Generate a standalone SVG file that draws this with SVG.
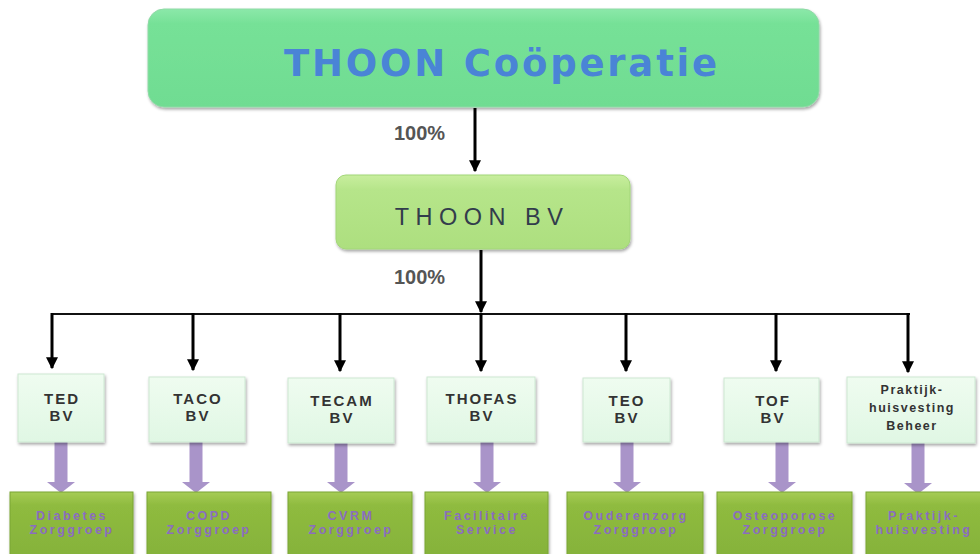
<svg xmlns="http://www.w3.org/2000/svg" width="980" height="554" viewBox="0 0 980 554">
<defs>
<linearGradient id="gTop" x1="0" y1="0" x2="0" y2="1"><stop offset="0" stop-color="#8be8a9"/><stop offset="0.15" stop-color="#76e197"/><stop offset="1" stop-color="#70dc92"/></linearGradient>
<linearGradient id="gBv" x1="0" y1="0" x2="0" y2="1"><stop offset="0" stop-color="#c8ee9e"/><stop offset="0.2" stop-color="#b6e58a"/><stop offset="1" stop-color="#addf7f"/></linearGradient>
<linearGradient id="gSub" x1="0" y1="0" x2="0" y2="1"><stop offset="0" stop-color="#effcf0"/><stop offset="1" stop-color="#e0f7e4"/></linearGradient>
<linearGradient id="gBot" x1="0" y1="0" x2="0" y2="1"><stop offset="0" stop-color="#a6cc55"/><stop offset="0.2" stop-color="#8fbb3f"/><stop offset="1" stop-color="#85b23a"/></linearGradient>
<filter id="sh" x="-10%" y="-10%" width="120%" height="130%"><feDropShadow dx="1" dy="2" stdDeviation="1.5" flood-color="#000" flood-opacity="0.35"/></filter>
<marker id="ah" viewBox="0 0 10 10" refX="9" refY="5" markerWidth="4" markerHeight="4" orient="auto" markerUnits="strokeWidth">
<path d="M0,0 L10,5 L0,10 z" fill="#000"/>
</marker>
<g id="parrow"><rect x="-6.5" y="0" width="13" height="41" fill="#a994c9"/><path d="M-14,40 L14,40 L0,51 z" fill="#a994c9"/></g>
</defs>
<style>
.conn{stroke:#000;stroke-width:3;fill:none}
.hline{stroke:#111;stroke-width:2;fill:none}
.pct{font-family:"Liberation Sans",Arial,sans-serif;font-weight:bold;font-size:20px;fill:#555}
.sub{fill:url(#gSub);stroke:#cde8d2;stroke-width:1;filter:url(#sh)}
.bot{fill:url(#gBot);stroke:#7aa534;stroke-width:1;filter:url(#sh)}
.st{font-family:"Liberation Sans",Arial,sans-serif;font-weight:bold;font-size:15px;fill:#333;text-anchor:middle;letter-spacing:2px}
.st2{font-family:"Liberation Sans",Arial,sans-serif;font-weight:bold;font-size:12.5px;fill:#333;text-anchor:middle;letter-spacing:1.5px}
.bt{font-family:"Liberation Sans",Arial,sans-serif;font-weight:bold;font-size:12.5px;fill:#8a6dc0;text-anchor:middle;letter-spacing:2.5px}
</style>
<rect width="980" height="554" fill="#fff"/>

<g id="connectors">
<line class="conn" x1="475" y1="108" x2="475" y2="171" marker-end="url(#ah)"/>
<line class="conn" x1="481" y1="250" x2="481" y2="312" marker-end="url(#ah)"/>
<line class="hline" x1="51" y1="314" x2="910" y2="314"/>
<line class="conn" x1="52" y1="313" x2="52" y2="368" marker-end="url(#ah)"/>
<line class="conn" x1="193" y1="313" x2="193" y2="370" marker-end="url(#ah)"/>
<line class="conn" x1="340" y1="313" x2="340" y2="371" marker-end="url(#ah)"/>
<line class="conn" x1="481" y1="313" x2="481" y2="371" marker-end="url(#ah)"/>
<line class="conn" x1="626" y1="313" x2="626" y2="371" marker-end="url(#ah)"/>
<line class="conn" x1="776" y1="313" x2="776" y2="371" marker-end="url(#ah)"/>
<line class="conn" x1="908" y1="313" x2="908" y2="372" marker-end="url(#ah)"/>
<use href="#parrow" x="61" y="442"/>
<use href="#parrow" x="196" y="442"/>
<use href="#parrow" x="341" y="442"/>
<use href="#parrow" x="487" y="442"/>
<use href="#parrow" x="627" y="442"/>
<use href="#parrow" x="782" y="442"/>
<use href="#parrow" x="918" y="443"/>
</g>
<text class="pct" x="394" y="140">100%</text>
<text class="pct" x="394" y="284">100%</text>

<g id="coop">
<rect x="148" y="9" width="671" height="98" rx="16" fill="url(#gTop)" stroke="#8fd9a6" stroke-width="1" filter="url(#sh)"/>
<text x="502" y="76" text-anchor="middle" font-family="DejaVu Sans,Verdana,sans-serif" font-weight="bold" font-size="37" fill="#4a84d6" letter-spacing="2.8">THOON Coöperatie</text>
</g>

<g id="thoonbv">
<rect x="336" y="175" width="294" height="74" rx="10" fill="url(#gBv)" stroke="#a2d678" stroke-width="1" filter="url(#sh)"/>
<text x="482" y="225" text-anchor="middle" font-family="Liberation Sans,Arial,sans-serif" font-size="23.5" fill="#323c4c" letter-spacing="6.5">THOON BV</text>
</g>

<g id="ted"><rect class="sub" x="18" y="374" width="86" height="68"/><text class="st" x="62" y="404">TED</text><text class="st" x="62" y="421">BV</text></g>
<g id="taco"><rect class="sub" x="149" y="377" width="96" height="65"/><text class="st" x="198" y="404">TACO</text><text class="st" x="198" y="421">BV</text></g>
<g id="tecam"><rect class="sub" x="288" y="378" width="106" height="65"/><text class="st" x="342" y="406">TECAM</text><text class="st" x="342" y="423">BV</text></g>
<g id="thofas"><rect class="sub" x="427" y="377" width="108" height="65"/><text class="st" x="482" y="404">THOFAS</text><text class="st" x="482" y="421">BV</text></g>
<g id="teo"><rect class="sub" x="583" y="378" width="87" height="64"/><text class="st" x="627" y="406">TEO</text><text class="st" x="627" y="423">BV</text></g>
<g id="tof"><rect class="sub" x="724" y="378" width="95" height="64"/><text class="st" x="773" y="406">TOF</text><text class="st" x="773" y="423">BV</text></g>
<g id="pkh"><rect class="sub" x="847" y="377" width="128" height="66"/><text class="st2" x="912" y="394">Praktijk-</text><text class="st2" x="912" y="412">huisvesting</text><text class="st2" x="912" y="430">Beheer</text></g>

<g id="diabetes"><rect class="bot" x="10" y="492" width="123" height="66"/><text class="bt" x="72" y="520">Diabetes</text><text class="bt" x="72" y="534">Zorggroep</text></g>
<g id="copd"><rect class="bot" x="147" y="492" width="124" height="66"/><text class="bt" x="209" y="520">COPD</text><text class="bt" x="209" y="534">Zorggroep</text></g>
<g id="cvrm"><rect class="bot" x="288" y="492" width="124" height="66"/><text class="bt" x="351" y="520">CVRM</text><text class="bt" x="351" y="534">Zorggroep</text></g>
<g id="facilitair"><rect class="bot" x="425" y="492" width="123" height="66"/><text class="bt" x="487" y="520">Facilitaire</text><text class="bt" x="487" y="534">Service</text></g>
<g id="ouderenzorg"><rect class="bot" x="567" y="492" width="136" height="66"/><text class="bt" x="636" y="520">Ouderenzorg</text><text class="bt" x="636" y="534">Zorggroep</text></g>
<g id="osteoporose"><rect class="bot" x="717" y="492" width="135" height="66"/><text class="bt" x="785" y="520">Osteoporose</text><text class="bt" x="785" y="534">Zorggroep</text></g>
<g id="praktijk"><rect class="bot" x="866" y="492" width="120" height="66"/><text class="bt" x="924" y="520">Praktijk-</text><text class="bt" x="924" y="534">huisvesting</text></g>
</svg>
